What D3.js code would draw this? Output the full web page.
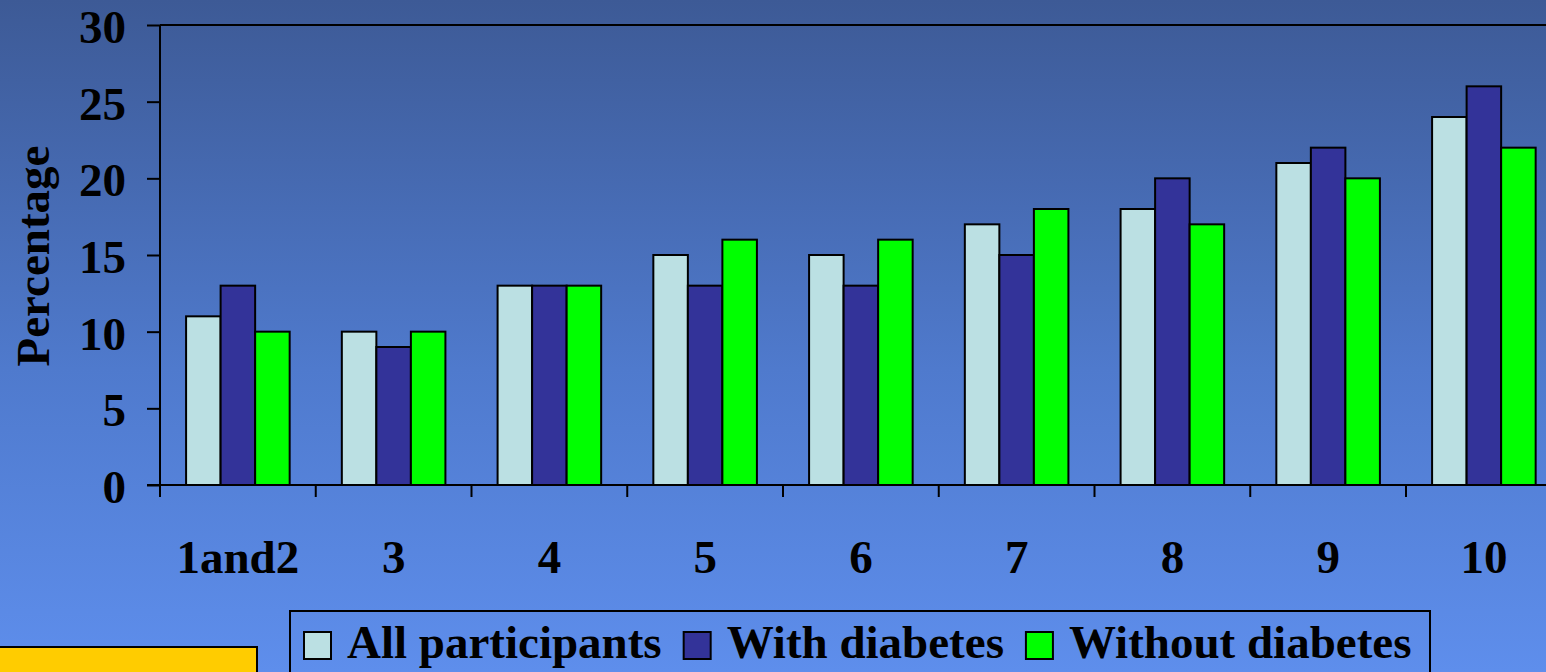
<!DOCTYPE html>
<html>
<head>
<meta charset="utf-8">
<script src="https://cdn.jsdelivr.net/npm/d3@7"></script>
<style>
  html, body { margin: 0; padding: 0; overflow: hidden; }
  svg { display: block; }
  text { font-family: "Liberation Serif", "Times New Roman", serif; font-weight: bold; fill: #000; }
</style>
</head>
<body>
<svg id="chart" width="1546" height="672"></svg>
<script>
// Categories along the x axis
const categories = ["1and2", "3", "4", "5", "6", "7", "8", "9", "10"];
const seriesNames = ["All participants", "With diabetes", "Without diabetes"];
const allParticipants = [11, 10, 13, 15, 15, 17, 18, 21, 24];
const withDiabetes    = [13, 9, 13, 13, 13, 15, 20, 22, 26];
const withoutDiabetes = [10, 10, 13, 16, 16, 18, 17, 20, 22];
const yTicks = [0, 5, 10, 15, 20, 25, 30];
const seriesColors = ["#BBE0E3", "#333399", "#00FF00"];

const seriesValues = [allParticipants, withDiabetes, withoutDiabetes];

const W = 1546, H = 672;
const svg = d3.select("#chart");

// Background gradient
const defs = svg.append("defs");
const grad = defs.append("linearGradient").attr("id", "bg").attr("x1", 0).attr("y1", 0).attr("x2", 0).attr("y2", 1);
grad.append("stop").attr("offset", "0%").attr("stop-color", "#3d5a96");
grad.append("stop").attr("offset", "55%").attr("stop-color", "#4f7acd");
grad.append("stop").attr("offset", "100%").attr("stop-color", "#5e8eec");
svg.append("rect").attr("width", W).attr("height", H).attr("fill", "url(#bg)");

// Plot area
const plotLeft = 160, plotTop = 25, plotBottom = 485;
const step = 155.75;
const plotRight = plotLeft + categories.length * step;

const x0 = d3.scaleBand().domain(categories).range([plotLeft, plotRight]).paddingInner(0.335).paddingOuter(0.1675);
const x1 = d3.scaleBand().domain(d3.range(seriesNames.length)).range([0, x0.bandwidth()]);
const y = d3.scaleLinear().domain([0, 30]).range([plotBottom, plotTop]);

// Bars
const groups = svg.append("g").selectAll("g").data(categories).join("g")
  .attr("transform", d => `translate(${x0(d)},0)`);
groups.selectAll("rect")
  .data((d, i) => seriesValues.map((vals, s) => ({ s, v: vals[i] })))
  .join("rect")
  .attr("x", d => x1(d.s))
  .attr("y", d => y(d.v))
  .attr("width", x1.bandwidth())
  .attr("height", d => y(0) - y(d.v))
  .attr("fill", d => seriesColors[d.s])
  .attr("stroke", "#000")
  .attr("stroke-width", 2);

// Top frame line
svg.append("line").attr("x1", plotLeft).attr("x2", W).attr("y1", y(30)).attr("y2", y(30))
  .attr("stroke", "#000").attr("stroke-width", 2);

// Y axis
const yAxis = d3.axisLeft(y).tickValues(yTicks).tickSize(13).tickPadding(0).tickFormat(d3.format("d"));
const gy = svg.append("g").attr("transform", `translate(${plotLeft},0)`).call(yAxis);
gy.select(".domain").attr("stroke", "#000").attr("stroke-width", 2).attr("d", `M0,${plotTop}V${plotBottom}`);
gy.selectAll(".tick line").attr("stroke", "#000").attr("stroke-width", 2);
gy.selectAll(".tick text")
  .attr("x", -34).attr("dy", "0.37em")
  .style("font-size", "47px").style("font-family", "Liberation Serif").style("font-weight", "bold").attr("fill", "#000");

// X axis with ticks at category boundaries
const xAxis = d3.axisBottom(x0).tickSize(0).tickPadding(0);
const gx = svg.append("g").attr("transform", `translate(0,${plotBottom})`).call(xAxis);
gx.select(".domain").attr("stroke", "#000").attr("stroke-width", 2).attr("d", `M${plotLeft - 13},0H${W}`);
gx.selectAll(".tick text")
  .attr("y", 0).attr("dy", 0).attr("transform", "translate(0,88)")
  .style("font-size", "47px").style("font-family", "Liberation Serif").style("font-weight", "bold").attr("fill", "#000");
const boundaries = categories.map(c => x0(c) - (x0.step() - x0.bandwidth()) / 2);
gx.selectAll("line.bound").data(boundaries).join("line").attr("class", "bound")
  .attr("x1", d => d).attr("x2", d => d).attr("y1", 0).attr("y2", 12)
  .attr("stroke", "#000").attr("stroke-width", 2);

// Y axis title
svg.append("text")
  .attr("transform", `translate(49,256) rotate(-90)`)
  .attr("text-anchor", "middle")
  .style("font-size", "47px")
  .text("Percentage");

// Yellow box (bottom left)
svg.append("rect").attr("x", -2).attr("y", 647).attr("width", 259).attr("height", 40)
  .attr("fill", "#FFCC00").attr("stroke", "#000").attr("stroke-width", 2);

// Legend
const legend = svg.append("g");
legend.append("rect").attr("x", 290).attr("y", 611).attr("width", 1140).attr("height", 80)
  .attr("fill", "none").attr("stroke", "#000").attr("stroke-width", 2);
let lx = 304;
seriesNames.forEach((name, i) => {
  legend.append("rect").attr("x", lx).attr("y", 632).attr("width", 27).attr("height", 27)
    .attr("fill", seriesColors[i]).attr("stroke", "#000").attr("stroke-width", 2);
  const t = legend.append("text").attr("x", lx + 43).attr("y", 658)
    .style("font-size", "47px").text(name);
  lx = lx + 43 + t.node().getComputedTextLength() + 22;
});
</script>
</body>
</html>
